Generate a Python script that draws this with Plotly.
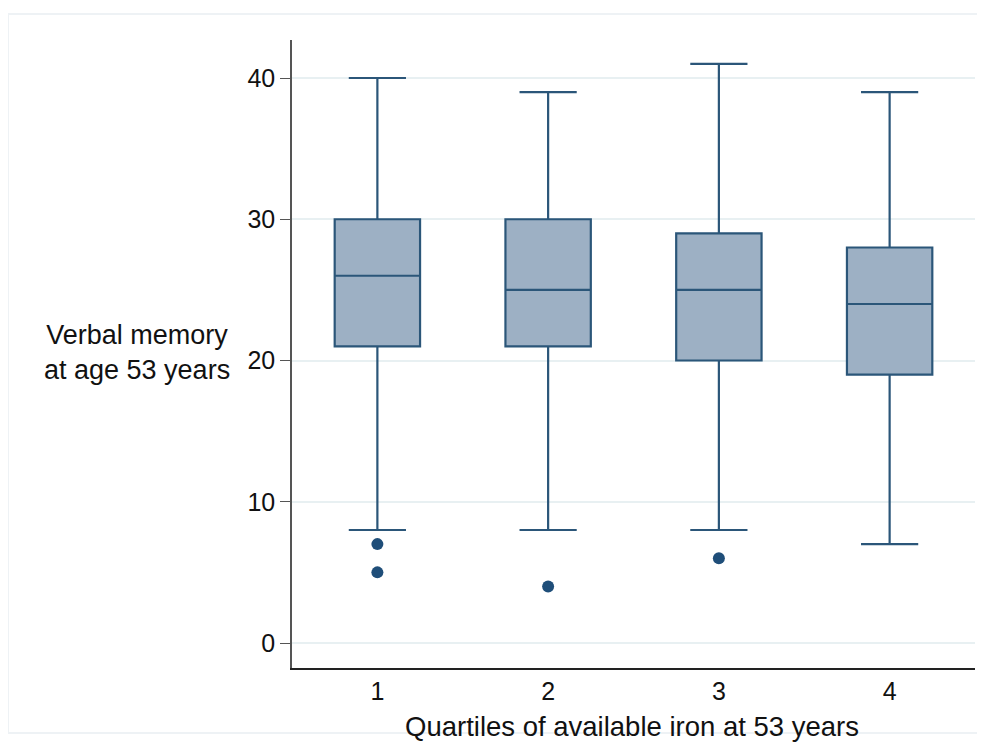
import plotly.graph_objects as go

categories = [1, 2, 3, 4]
lower_whisker = [8, 8, 8, 7]
q1_vals = [21, 21, 20, 19]
median_vals = [26, 25, 25, 24]
q3_vals = [30, 30, 29, 28]
upper_whisker = [40, 39, 41, 39]
outlier_x = [1, 1, 2, 3]
outlier_y = [7, 5, 4, 6]
y_ticks = [0, 10, 20, 30, 40]

fill_col = "#9DB0C4"
line_col = "#2B5679"
marker_col = "#1F4E79"

fig = go.Figure()
fig.add_trace(go.Box(
    x=categories, q1=q1_vals, median=median_vals, q3=q3_vals,
    lowerfence=lower_whisker, upperfence=upper_whisker,
    fillcolor=fill_col, line=dict(color=line_col, width=2.2),
    width=0.5, whiskerwidth=0.67, boxpoints=False, showlegend=False,
))
fig.add_trace(go.Scatter(
    x=outlier_x, y=outlier_y, mode="markers",
    marker=dict(color=marker_col, size=12), showlegend=False,
))

font_family = "Liberation Sans, Arial, sans-serif"
fig.update_layout(
    width=977, height=735,
    margin=dict(l=284, r=10, t=32, b=75),
    paper_bgcolor="white", plot_bgcolor="white",
    font=dict(family=font_family, size=25, color="#111111"),
    xaxis=dict(range=[0.5, 4.5], tickvals=categories, ticktext=[str(c) for c in categories],
               showgrid=False, showline=True, linecolor="#222222", linewidth=1.5,
               ticks="", zeroline=False, tickfont=dict(size=25)),
    yaxis=dict(range=[-1.77, 42.69], tickvals=y_ticks, showgrid=True, gridcolor="#E8F0F2",
               gridwidth=1.5, showline=True, linecolor="#555555", linewidth=1.5,
               ticks="outside", ticklen=10, tickcolor="#555555", zeroline=False,
               tickfont=dict(size=25)),
    annotations=[
        dict(text="Verbal memory<br>at age 53 years", xref="paper", yref="paper",
             x=-0.0878, y=0.503, xanchor="right", yanchor="middle", showarrow=False,
             align="center", font=dict(size=27)),
        dict(text="Quartiles of available iron at 53 years", xref="paper", yref="paper",
             x=0.498, y=-0.0925, xanchor="center", yanchor="middle", showarrow=False,
             font=dict(size=27.5)),
    ],
    shapes=[
        dict(type="rect", xref="paper", yref="paper",
             x0=-284/683, x1=1.1, y0=-0.1035, y1=1.0414,
             line=dict(color="#EEF2F5", width=2), layer="below"),
    ],
)

fig.write_html("out.html")
